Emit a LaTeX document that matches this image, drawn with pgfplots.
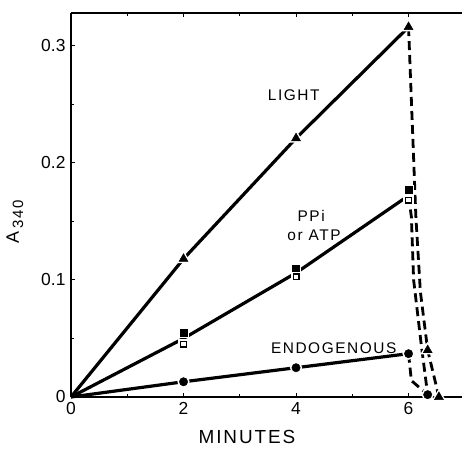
\documentclass[border=0pt]{standalone}
\usepackage{fontspec}
\setmainfont{Liberation Sans}
\newfontfamily\spaced[LetterSpace=10]{Liberation Sans}
\usepackage{pgfplots}
\pgfplotsset{compat=1.18}
\usetikzlibrary{calc}

% marks with a white halo, so the line breaks round them
\pgfplotsset{
  halo/.style={only marks, mark size=#1, mark options={draw=white, fill=white, line width=2.5bp}},
  trace/.style={black, line width=3.2bp, mark=none},
  fall/.style={black, line width=2.8bp, mark=none, dash pattern=on 9bp off 5bp},
}

\begin{document}
\begin{tikzpicture}
  \begin{axis}[
    name=ax,
    scale only axis, width=391bp, height=384bp,
    xmin=0, xmax=6.95, ymin=0, ymax=0.328,
    axis x line*=box, axis y line*=left,
    axis line style={line width=1.3bp},
    xtick={0,2,4,6}, minor xtick={1,3,5},
    ytick={0,0.1,0.2,0.3}, minor ytick={0.05,0.15,0.25},
    yticklabels={0,0.1,0.2,0.3},
    tick align=inside, major tick length=4bp, minor tick length=3bp,
    tick style={black, line width=0.9bp},
    ticklabel style={font=\fontsize{17.5}{19}\selectfont},
    xticklabel style={yshift=-2bp},
    yticklabel style={xshift=-2bp},
    /pgf/number format/assume math mode=true,
    xlabel={\spaced MINUTES},
    xlabel style={font=\fontsize{19}{21}\selectfont, at={(rel axis cs:0.45,0)}, anchor=north, yshift=-30bp},
    clip=false,
  ]
    % light
    \addplot[trace] coordinates {(0,0) (2,0.118) (4,0.221) (6,0.316)};
    \addplot[fall] coordinates {(6,0.316) (6.13,0.154) (6.21,0.09) (6.34,0.040) (6.54,0)};
    % PPi or ATP
    \addplot[trace] coordinates {(0,0) (2,0.050) (4,0.106) (6,0.172)};
    \addplot[fall] coordinates {(6,0.172) (6.05,0.154) (6.09,0.10) (6.23,0.043) (6.34,0.002)};
    % endogenous
    \addplot[trace] coordinates {(0,0) (2,0.013) (4,0.025) (6,0.037)};
    \addplot[fall] coordinates {(6,0.037) (6.05,0.014) (6.34,0.002)};

    \addplot[halo=6bp, mark=triangle*] coordinates {(2,0.118) (4,0.221) (6,0.316) (6.34,0.040) (6.54,0)};
    \addplot[halo=4bp, mark=square*] coordinates {(2,0.055) (4,0.110) (6,0.177) (2,0.045) (4,0.1025) (6,0.168)};
    \addplot[halo=4.8bp, mark=*] coordinates {(2,0.013) (4,0.025) (6,0.037) (6.34,0.002)};

    \addplot[only marks, mark=triangle*, mark size=5.2bp, mark options={fill=black, draw=black}]
      coordinates {(2,0.118) (4,0.221) (6,0.316) (6.34,0.040) (6.54,0)};
    \addplot[only marks, mark=square*, mark size=3.4bp, mark options={fill=black, draw=black}]
      coordinates {(2,0.055) (4,0.110) (6,0.177)};
    \addplot[only marks, mark=square, mark size=2.8bp, mark options={draw=black, line width=1.4bp}]
      coordinates {(2,0.045) (4,0.1025) (6,0.168)};
    \addplot[only marks, mark=*, mark size=4.2bp, mark options={fill=black, draw=black}]
      coordinates {(2,0.013) (4,0.025) (6,0.037) (6.34,0.002)};

    \node[font=\fontsize{15.5}{17}\spaced] at (axis cs:3.96,0.258) {LIGHT};
    \node[font=\fontsize{15.5}{17}\spaced] at (axis cs:4.27,0.155) {PPi};
    \node[font=\fontsize{15.5}{17}\spaced] at (axis cs:4.32,0.138) {or ATP};
    \node[font=\fontsize{15.5}{17}\spaced] at (axis cs:4.67,0.042) {ENDOGENOUS};
  \end{axis}
  \node[rotate=90, font=\fontsize{18}{20}\selectfont] at ($(ax.south west)+(-56bp,175bp)$)
    {A\,\raisebox{-0.45ex}{\fontsize{15}{17}\selectfont\spaced 340}};
  \pgfresetboundingbox
  \path ($(ax.south west)+(-71bp,-53bp)$) rectangle ($(ax.north east)+(0bp,13bp)$);
\end{tikzpicture}
\end{document}
